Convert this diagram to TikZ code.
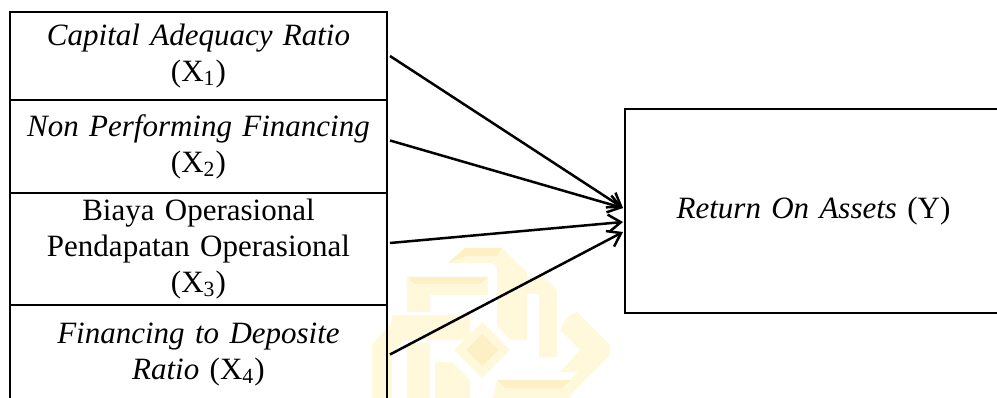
\documentclass[tikz,border=0pt]{standalone}
\usepackage{fontspec}
\setmainfont{Liberation Serif}
\usetikzlibrary{arrows.meta,calc}
\definecolor{wm}{HTML}{FFF8DA}
\definecolor{wmd}{HTML}{FDF0C4}
\begin{document}
\begin{tikzpicture}[x=0.4pt,y=-0.4pt,
  box/.style={draw,line width=0.8pt,inner sep=0pt,outer sep=0pt,minimum width=150.8pt,text width=150pt,align=center,font=\fontsize{12.4}{14.4}\selectfont},
  arr/.style={line width=1pt,-{Straight Barb[length=5pt,width=7pt]}},
  wmk/.style={fill=wm,draw=none},
  wmkd/.style={fill=wmd,draw=none}]
\useasboundingbox (0,0) rectangle (997,398);
\clip (0,0) rectangle (997,398);
% faint watermark
\fill[wmk] (482,322) -- (510,350) -- (482,378) -- (454,350) -- cycle;
\fill[wmkd] (482,334) -- (498,350) -- (482,366) -- (466,350) -- cycle;
\fill[wmk] (448,263) -- (465,248) -- (502,248) -- (517,263) -- (527,272) -- (527,340) -- (510,340) -- (497,326) -- (497,268) -- (492,263) -- cycle;
\fill[wmkd] (448,263) -- (465,248) -- (502,248) -- (497,256) -- (466,256) -- cycle;
\fill[wmk] (407,277) -- (488,277) -- (488,295) -- (430,295) -- (430,312) -- (407,312) -- cycle;
\fill[wmkd] (407,277) -- (488,277) -- (480,284) -- (414,284) -- cycle;
\fill[wmk] (522,277) -- (545,277) -- (557,290) -- (557,357) -- (539,357) -- (539,294) -- (522,294) -- cycle;
\fill[wmk] (567,317) -- (600,350) -- (570,380) -- (497,380) -- (493,398) -- (570,398) -- (570,395) -- (578,387) -- (610,355) -- (610,345) -- (577,312) -- cycle;
\fill[wmk] (567,317) -- (600,350) -- (578,372) -- (560,372) -- (580,350) -- (560,330) -- cycle;
\fill[wmk] (372,345) -- (392,322) -- (392,315) -- (470,315) -- (470,340) -- (405,340) -- (392,352) -- (392,398) -- (372,398) -- cycle;
\fill[wmk] (407,343) -- (430,343) -- (430,398) -- (407,398) -- cycle;
\fill[wmk] (435,362) -- (452,362) -- (470,380) -- (470,398) -- (435,398) -- cycle;
\fill[wmkd] (497,380) -- (570,380) -- (562,388) -- (505,388) -- cycle;
% boxes
\node[box,minimum height=35.2pt] (b1) at (198.5,56) {\textit{Capital Adequacy Ratio}\\(X\textsubscript{1})};
\node[box,minimum height=37.2pt] (b2) at (198.5,146.5) {\textit{Non Performing Financing}\\(X\textsubscript{2})};
\node[box,minimum height=44.8pt] (b3) at (198.5,249) {Biaya Operasional\\Pendapatan Operasional\\(X\textsubscript{3})};
\node[box,minimum height=39.6pt] (b4) at (198.5,354.5) {\textit{Financing to Deposite}\\\textit{Ratio} (X\textsubscript{4})};
\node[box,minimum height=81.6pt] (y) at (813.5,211) {\textit{Return On Assets} (Y)};
% arrows
\draw[arr] ($(b1.east)+(3,0)$) -- ($(y.west)+(-2,-3)$);
\draw[arr] ($(b2.east)+(3,-6)$) -- ($(y.west)+(-2,-3)$);
\draw[arr] ($(b3.east)+(3,-6)$) -- ($(y.west)+(-2,11)$);
\draw[arr] ($(b4.east)+(3,0)$) -- ($(y.west)+(-2,21)$);
\end{tikzpicture}
\end{document}
